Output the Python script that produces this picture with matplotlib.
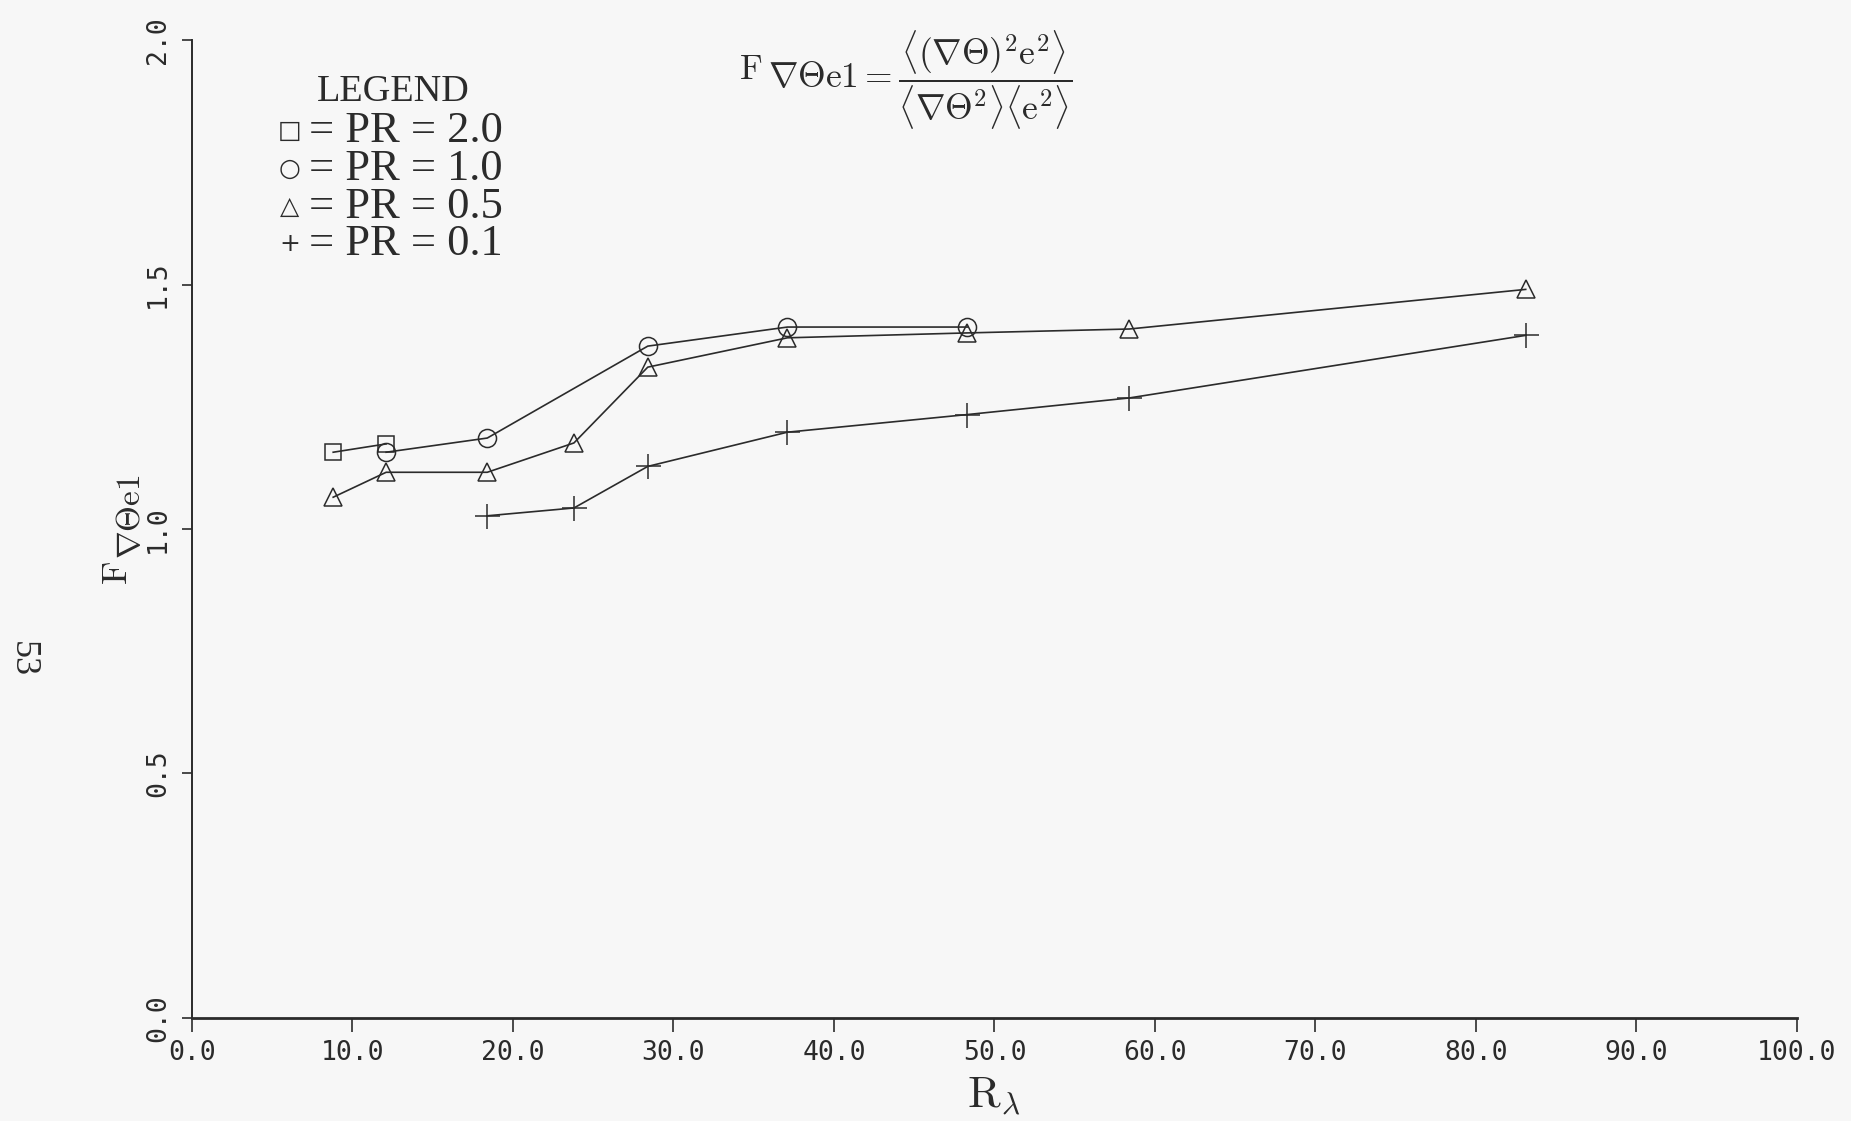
import matplotlib
matplotlib.use("Agg")
import matplotlib.pyplot as plt

plt.rcParams['mathtext.fontset'] = 'cm'
plt.rcParams['font.family'] = ['Liberation Serif', 'DejaVu Serif']

# Reynolds number R_lambda and F values per Prandtl number
r_pr20 = [8.8, 12.1]
f_pr20 = [1.157, 1.174]

r_pr10 = [12.1, 18.4, 28.4, 37.1, 48.3]
f_pr10 = [1.157, 1.186, 1.374, 1.413, 1.413]

r_pr05 = [8.8, 12.1, 18.4, 23.8, 28.4, 37.1, 48.3, 58.4, 83.1]
f_pr05 = [1.065, 1.116, 1.116, 1.176, 1.331, 1.391, 1.401, 1.409, 1.490]

r_pr01 = [18.4, 23.8, 28.4, 37.1, 48.3, 58.4, 83.1]
f_pr01 = [1.027, 1.043, 1.128, 1.198, 1.234, 1.268, 1.396]

xticks = [0, 10, 20, 30, 40, 50, 60, 70, 80, 90, 100]
yticks = [0.0, 0.5, 1.0, 1.5, 2.0]

legend_rows = [('\u25a1', 'PR = 2.0'), ('\u25cb', 'PR = 1.0'),
               ('\u25b3', 'PR = 0.5'), ('+', 'PR = 0.1')]

ink = '#2b2b2b'
bg = '#f7f7f7'

fig = plt.figure(figsize=(18.51, 11.21), dpi=100, facecolor=bg)
ax = fig.add_axes([0.1037, 0.0919, 0.8671, 0.8724], facecolor=bg)

style = dict(color=ink, lw=1.2, mfc='none', mec=ink, mew=1.1)
ax.plot(r_pr20, f_pr20, marker='s', ms=12, **style)
ax.plot(r_pr10, f_pr10, marker='o', ms=13, **style)
ax.plot(r_pr05, f_pr05, marker='^', ms=13, **style)
ax.plot(r_pr01, f_pr01, marker='+', ms=18, **style)

ax.set_xlim(0, 100)
ax.set_ylim(0, 2.0)
ax.set_xticks(xticks)
ax.set_yticks(yticks)
ax.set_xticklabels(['%.1f' % v for v in xticks])
ax.set_yticklabels(['%.1f' % v for v in yticks], rotation=90, va='center')

for s in ['top', 'right']:
    ax.spines[s].set_visible(False)
ax.spines['bottom'].set_linewidth(2.0)
ax.spines['left'].set_linewidth(1.4)
for s in ['bottom', 'left']:
    ax.spines[s].set_color(ink)

ax.tick_params(axis='x', direction='out', length=10, width=1.2, colors=ink,
               pad=6, labelsize=19)
ax.tick_params(axis='y', direction='out', length=7, width=1.2, colors=ink,
               pad=8, labelsize=19)
for lab in ax.get_xticklabels() + ax.get_yticklabels():
    lab.set_family('DejaVu Sans Mono')

# y label: raised F, full-size subscript part
fig.text(0.0640, 0.4890, r'$\mathrm{F}$', rotation=90, ha='center',
         va='center', fontsize=26, color=ink)
fig.text(0.0712, 0.5395, r'$\nabla\Theta\mathrm{e1}$', rotation=90,
         ha='center', va='center', fontsize=24, color=ink)
# x label
fig.text(0.537, 0.022, r'$\mathrm{R}_{\lambda}$', ha='center', va='center',
         fontsize=32, color=ink)

# formula
fig.text(0.4150, 0.928,
         r'$\nabla\Theta\mathrm{e1} = '
         r'\dfrac{\langle(\nabla\Theta)^2\mathrm{e}^2\rangle}'
         r'{\langle\nabla\Theta^2\rangle\langle\mathrm{e}^2\rangle}$',
         ha='left', va='center', fontsize=25.5, color=ink)
fig.text(0.4118, 0.937, r'$\mathrm{F}$', ha='right', va='center',
         fontsize=25, color=ink)

# legend block
fig.text(0.171, 0.918, 'LEGEND', ha='left', va='center', fontsize=27.5,
         color=ink)
for i, (sym, lab) in enumerate(legend_rows):
    y = 0.883 - i * 0.0337
    fig.text(0.1565, y, sym, ha='center', va='center', fontsize=18, color=ink,
             family=['DejaVu Sans'])
    fig.text(0.167, y, '= ' + lab, ha='left', va='center', fontsize=32,
             color=ink)

# page number
fig.text(0.012, 0.412, '53', rotation=-90, ha='center', va='center',
         fontsize=26, color=ink)

fig.savefig('out.png', dpi=100, facecolor=bg)
